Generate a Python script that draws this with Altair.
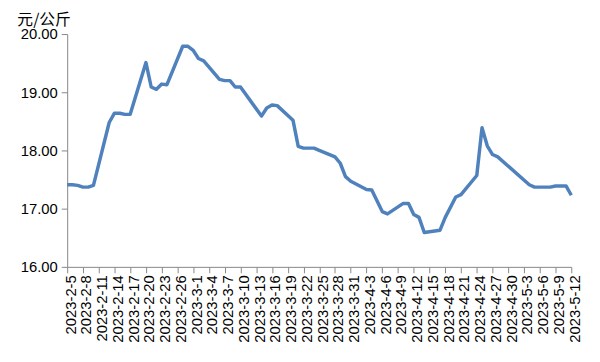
import json
import altair as alt
import pandas as pd

dates = [
    "2023-02-05", "2023-02-06", "2023-02-07", "2023-02-08", "2023-02-09", "2023-02-10",
    "2023-02-13", "2023-02-14", "2023-02-15", "2023-02-16", "2023-02-17",
    "2023-02-20", "2023-02-21", "2023-02-22", "2023-02-23", "2023-02-24",
    "2023-02-27", "2023-02-28", "2023-03-01", "2023-03-02", "2023-03-03",
    "2023-03-06", "2023-03-07", "2023-03-08", "2023-03-09", "2023-03-10",
    "2023-03-14", "2023-03-15", "2023-03-16", "2023-03-17",
    "2023-03-20", "2023-03-21", "2023-03-22", "2023-03-24", "2023-03-25",
    "2023-03-28", "2023-03-29", "2023-03-30", "2023-03-31",
    "2023-04-03", "2023-04-04", "2023-04-06", "2023-04-07",
    "2023-04-10", "2023-04-11", "2023-04-12", "2023-04-13", "2023-04-14",
    "2023-04-17", "2023-04-18", "2023-04-20", "2023-04-21",
    "2023-04-24", "2023-04-25", "2023-04-26", "2023-04-27", "2023-04-28",
    "2023-05-04", "2023-05-05", "2023-05-08", "2023-05-09", "2023-05-11", "2023-05-12",
]
prices = [
    17.41, 17.41, 17.40, 17.37, 17.37, 17.40,
    18.48, 18.64, 18.64, 18.62, 18.62,
    19.51, 19.09, 19.05, 19.14, 19.13,
    19.79, 19.79, 19.72, 19.58, 19.54,
    19.22, 19.20, 19.20, 19.09, 19.09,
    18.59, 18.73, 18.78, 18.77,
    18.52, 18.07, 18.04, 18.04, 18.00,
    17.89, 17.78, 17.55, 17.47,
    17.33, 17.32, 16.95, 16.91,
    17.09, 17.09, 16.90, 16.85, 16.59,
    16.63, 16.85, 17.20, 17.24,
    17.57, 18.39, 18.08, 17.93, 17.89,
    17.41, 17.37, 17.37, 17.39, 17.39, 17.23,
]
tick_labels = [
    "2023-2-5", "2023-2-8", "2023-2-11", "2023-2-14", "2023-2-17", "2023-2-20",
    "2023-2-23", "2023-2-26", "2023-3-1", "2023-3-4", "2023-3-7", "2023-3-10",
    "2023-3-13", "2023-3-16", "2023-3-19", "2023-3-22", "2023-3-25", "2023-3-28",
    "2023-3-31", "2023-4-3", "2023-4-6", "2023-4-9", "2023-4-12", "2023-4-15",
    "2023-4-18", "2023-4-21", "2023-4-24", "2023-4-27", "2023-4-30", "2023-5-3",
    "2023-5-6", "2023-5-9", "2023-5-12",
]
y_ticks = [16, 17, 18, 19, 20]
unit = "元/公斤"

start = pd.Timestamp("2023-02-05")
day = [(pd.Timestamp(d) - start).days for d in dates]
tick_days = [(pd.Timestamp(t) - start).days for t in tick_labels]
df = pd.DataFrame({"day": day, "price": prices})

label_expr = json.dumps(tick_labels) + "[round(datum.value / 3)]"
axis_color = "#868686"

chart = alt.Chart(df).mark_line(
    color="#4F81BD", strokeWidth=3.5, strokeJoin="round"
).encode(
    x=alt.X("day:Q",
            scale=alt.Scale(domain=[0, 96], nice=False, zero=False),
            axis=alt.Axis(values=tick_days, labelExpr=label_expr, labelAngle=-90,
                          title=None, grid=False, domainColor=axis_color,
                          tickColor=axis_color, tickSize=6, labelPadding=2,
                          labelOffset=3,
                          labelFont="Liberation Sans", labelFontSize=15,
                          labelColor="#000000", labelOverlap=False,
                          labelFlush=False)),
    y=alt.Y("price:Q",
            scale=alt.Scale(domain=[16, 20], nice=False, zero=False),
            axis=alt.Axis(values=y_ticks, format=".2f", title=unit,
                          titleAngle=0, titleX=-51, titleY=-10,
                          titleAlign="left", titleBaseline="alphabetic",
                          titleFont="Noto Sans CJK SC", titleFontSize=16,
                          titleFontWeight="normal", titleColor="#000000",
                          grid=False, domainColor=axis_color,
                          tickColor=axis_color, tickSize=6, labelPadding=4,
                          labelFont="Liberation Sans", labelFontSize=15,
                          labelColor="#000000")),
).properties(
    width=511, height=236,
    autosize=alt.AutoSizeParams(type="none"),
    padding={"left": 60, "top": 24, "right": 21, "bottom": 90},
).configure_view(stroke=None)

chart.save("out.html", embed_options={"renderer": "svg", "actions": False})
